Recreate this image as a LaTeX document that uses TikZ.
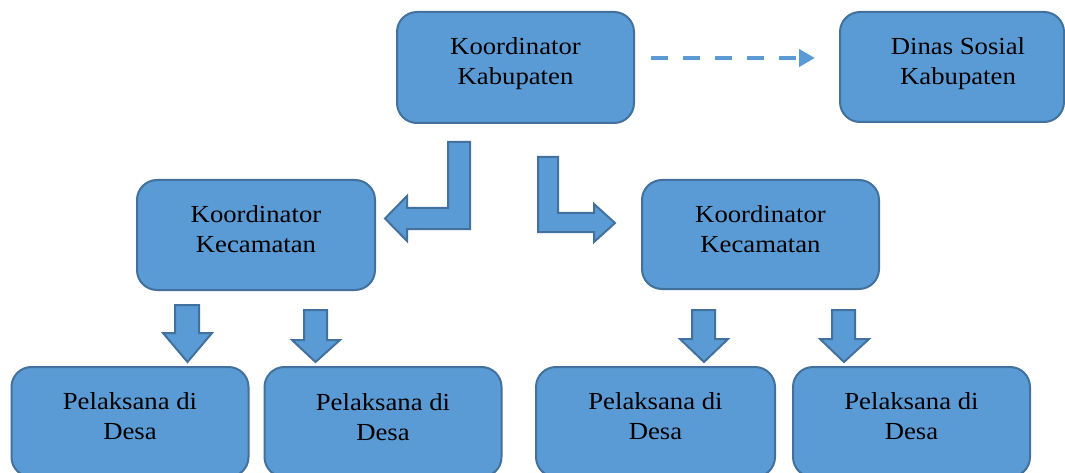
\documentclass[tikz,border=0pt]{standalone}
\usepackage{fontspec}
\setmainfont{Liberation Serif}[FakeStretch=1.09]
\usetikzlibrary{arrows.meta,calc}
\definecolor{boxfill}{HTML}{5B9BD5}
\definecolor{boxline}{HTML}{41719C}
\newcommand{\firststrut}{\rule{0pt}{17pt}}
\tikzset{
  box/.style={draw=boxline, fill=boxfill, line width=2pt, rounded corners=20pt, minimum width=237pt, minimum height=110pt, inner sep=0pt},
  txt/.style={align=center, anchor=north, font=\fontsize{24.5}{30.5}\selectfont, text=black, inner sep=0pt},
  blockarrow/.style={draw=boxline, fill=boxfill, line width=2pt, line join=miter},
  dasharrow/.style={draw=boxfill, line width=4pt, dash pattern=on 17pt off 15pt, -{Triangle[length=16pt,width=17pt]}}
}
\begin{document}
\begin{tikzpicture}[x=1pt,y=-1pt]
\clip (0,0) rectangle (1065,473);
\fill[white] (0,0) rectangle (1065,473);
% boxes
\node[box, minimum height=111pt] (kab) at (515.5,67.5) {};
\node[txt] (kabt) at ($(kab.north)+(0,26)$) {\firststrut Koordinator\\Kabupaten};
\node[box, minimum width=224pt] (dinas) at (952,67) {};
\node[txt] (dinast) at ($(dinas.north)+(6,26)$) {\firststrut Dinas Sosial\\Kabupaten};
\node[box, minimum width=238pt] (kecl) at (256,235) {};
\node[txt] (keclt) at ($(kecl.north)+(0,26)$) {\firststrut Koordinator\\Kecamatan};
\node[box, minimum height=109pt] (kecr) at (760.5,234.5) {};
\node[txt] (kecrt) at ($(kecr.north)+(0,26)$) {\firststrut Koordinator\\Kecamatan};
\node[box] (d1) at (130,422) {};
\node[txt] (d1t) at ($(d1.north)+(0,26)$) {\firststrut Pelaksana di\\Desa};
\node[box] (d2) at (383,422) {};
\node[txt] (d2t) at ($(d2.north)+(0,27)$) {\firststrut Pelaksana di\\Desa};
\node[box, minimum width=239pt] (d3) at (655.5,422) {};
\node[txt] (d3t) at ($(d3.north)+(0,26)$) {\firststrut Pelaksana di\\Desa};
\node[box] (d4) at (911.5,422) {};
\node[txt] (d4t) at ($(d4.north)+(0,26)$) {\firststrut Pelaksana di\\Desa};
% dashed arrow
\draw[dasharrow] ($(kab.east)+(16,-9.5)$) -- ($(dinas.west)+(-24,-9)$);
% L-shaped block arrows
\draw[blockarrow] (470,142) -- (448,142) -- (448,208) -- (407,208) -- (407,196) -- (385,218.5) -- (407,241) -- (407,229) -- (470,229) -- cycle;
\draw[blockarrow] (538,157) -- (558,157) -- (558,213) -- (594,213) -- (594,204) -- (615,223) -- (594,242) -- (594,232) -- (538,232) -- cycle;
% down arrows
\draw[blockarrow] (175,305) -- (199,305) -- (199,333) -- (212,333) -- (187.5,362) -- (163,333) -- (175,333) -- cycle;
\draw[blockarrow] (304,310) -- (327,310) -- (327,340) -- (340,340) -- (315.5,362) -- (292,340) -- (304,340) -- cycle;
\draw[blockarrow] (692,310) -- (715,310) -- (715,339) -- (728,339) -- (704,362) -- (680,339) -- (692,339) -- cycle;
\draw[blockarrow] (832,310) -- (855,310) -- (855,339) -- (869,339) -- (844,362) -- (820,339) -- (832,339) -- cycle;
\end{tikzpicture}
\end{document}
